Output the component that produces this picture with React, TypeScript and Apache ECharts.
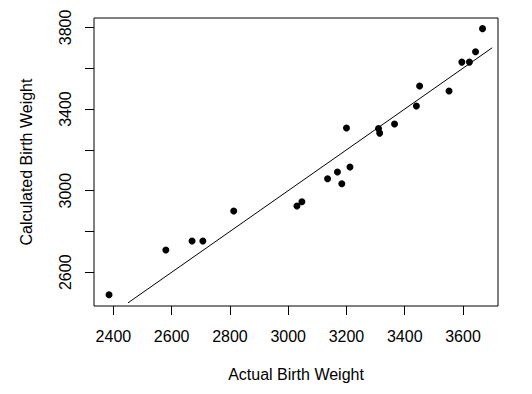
import React, { useEffect, useRef } from "react";
import * as echarts from "echarts";

const actualWeight = [2385, 2580, 2670, 2707, 2813, 3030, 3047, 3135, 3169, 3184, 3212, 3200, 3310, 3314, 3365, 3440, 3451, 3552, 3596, 3622, 3643, 3667];
const calculatedWeight = [2490, 2709, 2753, 2753, 2900, 2925, 2946, 3058, 3091, 3034, 3116, 3307, 3304, 3282, 3327, 3415, 3513, 3488, 3630, 3630, 3681, 3794];
const refLineX = [2450, 3700];
const refLineY = [2450, 3700];
const xTicks = [2400, 2600, 2800, 3000, 3200, 3400, 3600];
const yTicks = [2600, 2800, 3000, 3200, 3400, 3600, 3800];
const yLabels = [2600, 3000, 3400, 3800];
const xTitle = "Actual Birth Weight";
const yTitle = "Calculated Birth Weight";

export default function App() {
  const ref = useRef<HTMLDivElement>(null);
  useEffect(() => {
    if (!ref.current) return;
    const chart = echarts.init(ref.current, null, { renderer: "svg" });
    const font = "'Liberation Sans', Arial, sans-serif";
    chart.setOption({
      animation: false,
      backgroundColor: "#ffffff",
      textStyle: { fontFamily: font },
      grid: {
        left: 94,
        right: 34,
        top: 18,
        bottom: 88,
        show: true,
        borderColor: "#000",
        borderWidth: 1,
        backgroundColor: "transparent",
      },
      xAxis: {
        type: "value",
        min: 2333.4,
        max: 3720.1,
        name: xTitle,
        nameLocation: "middle",
        nameGap: 60,
        nameTextStyle: { fontSize: 16, color: "#000", fontFamily: font },
        axisLine: { show: false },
        splitLine: { show: false },
        axisTick: { show: true, length: 9, inside: false, customValues: xTicks, lineStyle: { color: "#000" } },
        axisLabel: {
          show: true,
          customValues: xTicks,
          fontSize: 16,
          color: "#000",
          margin: 22,
          fontFamily: font,
          formatter: (v: number) => String(v),
        },
      },
      yAxis: {
        type: "value",
        min: 2434.7,
        max: 3846.1,
        name: yTitle,
        nameLocation: "middle",
        nameRotate: 90,
        nameGap: 60,
        nameTextStyle: { fontSize: 16, color: "#000", fontFamily: font },
        axisLine: { show: false },
        splitLine: { show: false },
        axisTick: { show: true, length: 9, inside: false, customValues: yTicks, lineStyle: { color: "#000" } },
        axisLabel: {
          show: true,
          customValues: yLabels,
          rotate: 90,
          fontSize: 16,
          color: "#000",
          margin: 21,
          fontFamily: font,
          formatter: (v: number) => String(v),
        },
      },
      series: [
        {
          type: "line",
          data: refLineX.map((x, i) => [x, refLineY[i]]),
          showSymbol: false,
          lineStyle: { color: "#000", width: 1 },
          silent: true,
        },
        {
          type: "scatter",
          data: actualWeight.map((x, i) => [x, calculatedWeight[i]]),
          symbol: "circle",
          symbolSize: 7,
          itemStyle: { color: "#000", opacity: 1 },
        },
      ],
    });
    return () => chart.dispose();
  }, []);
  return (
    <div
      ref={ref}
      style={{ position: "fixed", left: 0, top: 0, width: 532, height: 394, background: "#fff" }}
    />
  );
}
